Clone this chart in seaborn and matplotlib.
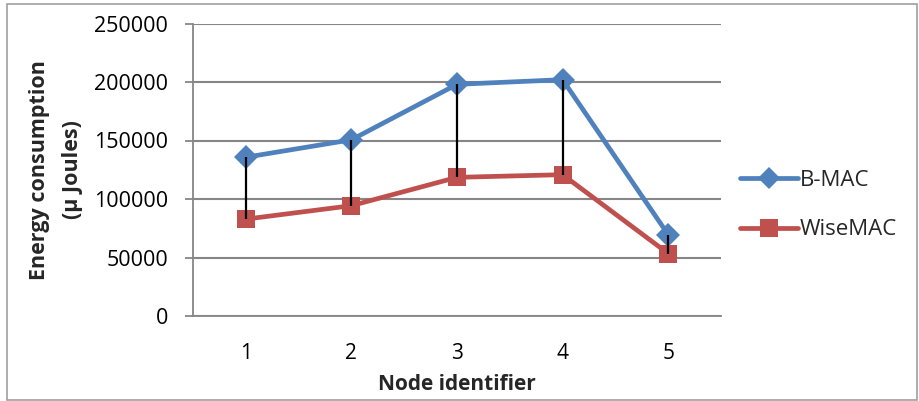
import matplotlib
matplotlib.use("Agg")
import matplotlib.pyplot as plt
from matplotlib.lines import Line2D
from matplotlib.patches import Rectangle
import seaborn as sns
import pandas as pd

nodes = [1, 2, 3, 4, 5]
bmac = [135700, 150600, 198000, 202000, 69500]
wisemac = [82800, 94300, 118500, 120800, 53400]
series_names = ["B-MAC", "WiseMAC"]
yticks = [0, 50000, 100000, 150000, 200000, 250000]

sns.set_style("white")
plt.rcParams["font.family"] = ["Open Sans", "DejaVu Sans"]

BLUE = "#4F81BD"
RED = "#C0504D"
GRID = "#868686"

fig = plt.figure(figsize=(9.2, 4.01), dpi=100)
W, H = 920, 401
ax = fig.add_axes([193 / W, 1 - 316 / H, (721 - 193) / W, (316 - 23.5) / H])

df_b = pd.DataFrame({"node": nodes, "energy": bmac})
df_w = pd.DataFrame({"node": nodes, "energy": wisemac})

sns.lineplot(data=df_b, x="node", y="energy", ax=ax, color=BLUE, lw=3.4,
             marker="D", markersize=12.5, markeredgewidth=0, zorder=3)
sns.lineplot(data=df_w, x="node", y="energy", ax=ax, color=RED, lw=3.4,
             marker="s", markersize=13.5, markeredgewidth=0, zorder=3)

# high-low lines
ax.vlines(nodes, wisemac, bmac, colors="black", lw=1.6, zorder=4)

ax.set_xlim(0.5, 5.5)
ax.set_ylim(0, 250000)
ax.set_yticks(yticks)
ax.set_yticklabels([str(v) for v in yticks])
ax.set_xticks(nodes)
ax.set_xticklabels([str(n) for n in nodes])

ax.grid(axis="y", color=GRID, lw=1.5)
ax.set_axisbelow(True)
for s in ["top", "right"]:
    ax.spines[s].set_visible(False)
for s in ["left", "bottom"]:
    ax.spines[s].set_color(GRID)
    ax.spines[s].set_linewidth(1.3)

ax.tick_params(axis="y", which="major", left=True, length=6, width=1.3,
               color=GRID, labelsize=15.5, pad=12, labelcolor="black")
ax.tick_params(axis="x", which="major", bottom=False, labelsize=15, pad=16,
               labelcolor="black")

ax.set_xlabel("Node identifier", fontsize=15, fontweight="bold", labelpad=7)
ax.set_ylabel("Energy consumption\n(µ Joules)", fontsize=15.5, fontweight="bold",
              labelpad=8, linespacing=1.75)

handles = [
    Line2D([], [], color=BLUE, lw=3.4, marker="D", markersize=11, markeredgewidth=0),
    Line2D([], [], color=RED, lw=3.4, marker="s", markersize=13, markeredgewidth=0),
]
leg = ax.legend(handles, series_names, loc="center left",
                bbox_to_anchor=(731 / W, 1 - 205 / H), bbox_transform=fig.transFigure,
                frameon=False, fontsize=16, handlelength=2.6, handletextpad=0.1,
                labelspacing=1.3, borderaxespad=0)

fig.patches.append(Rectangle((7 / W, 1 - 399.5 / H), (917 - 7) / W, (399.5 - 3.5) / H,
                             transform=fig.transFigure, fill=False,
                             edgecolor="#A0A0A0", lw=1.2))

fig.savefig("out.png", dpi=100)
